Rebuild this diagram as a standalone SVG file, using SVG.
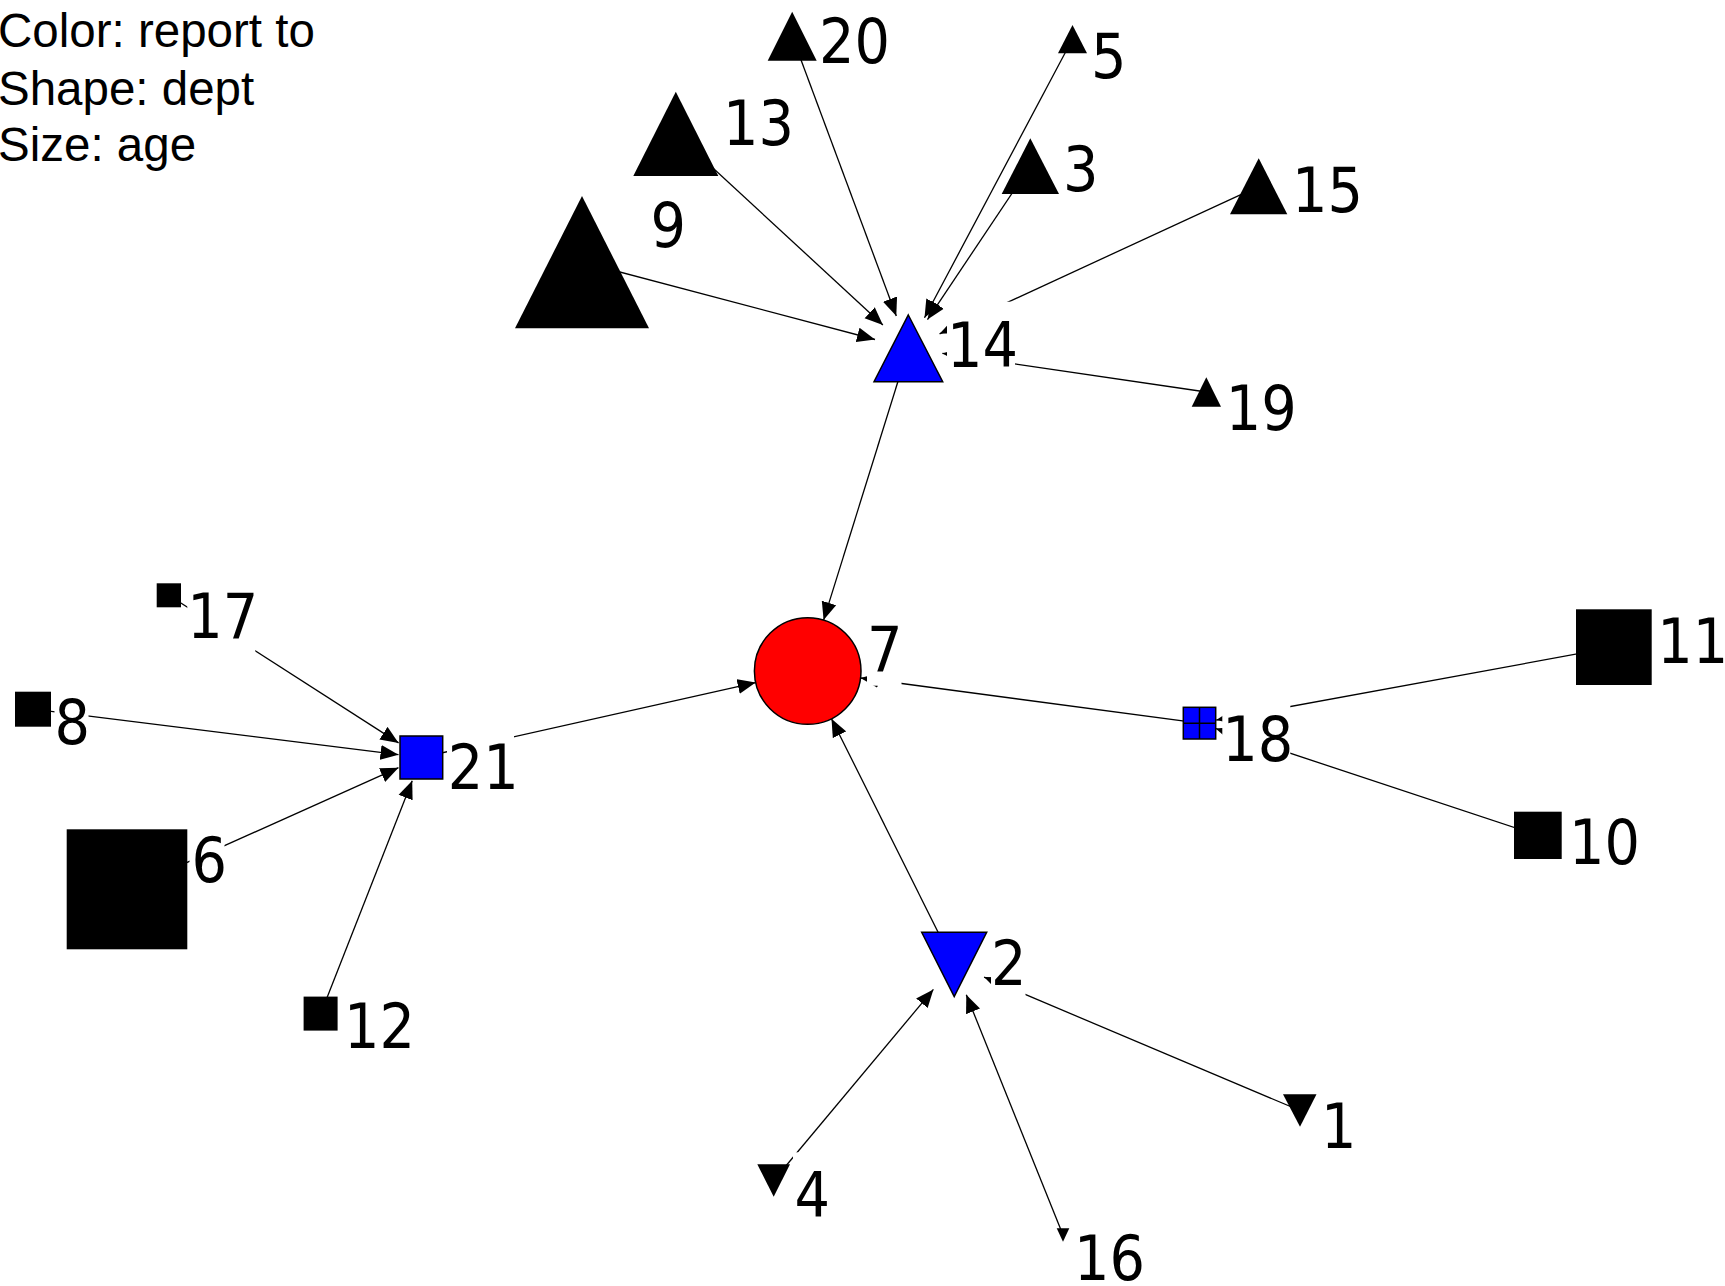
<svg xmlns="http://www.w3.org/2000/svg" width="1725" height="1286" viewBox="0 0 1725 1286">
<defs>
<marker id="arr" markerUnits="userSpaceOnUse" viewBox="-18 -8 18 16" refX="0" refY="0" markerWidth="18" markerHeight="16" orient="auto">
<path d="M0,0 L-18,-7.5 L-18,7.5 Z" fill="#000"/>
</marker>
</defs>
<style>
.e{stroke:#000;stroke-width:1.3;fill:none;marker-end:url(#arr)}
.k{fill:#000}
.b{fill:#0000ff;stroke:#000;stroke-width:1.5}
.bx{fill:#fff}
.lb{font-family:'DejaVu Sans Condensed','DejaVu Sans',sans-serif;font-stretch:condensed;font-size:62px;fill:#000}
.lg{font-family:'Liberation Sans',Arial,sans-serif;font-size:47.5px;fill:#000}
</style>
<rect width="1725" height="1286" fill="#fff"/>
<g id="legend">
<text class="lg" x="-2" y="47">Color: report to</text>
<text class="lg" x="-2" y="105">Shape: dept</text>
<text class="lg" x="-2" y="161">Size: age</text>
</g>
<g id="connectors">
<line class="e" x1="792.2" y1="36.2" x2="896.3" y2="316.0"/>
<line class="e" x1="675.8" y1="133.8" x2="882.9" y2="324.9"/>
<line class="e" x1="582" y1="262" x2="875.0" y2="339.5"/>
<line class="e" x1="1072.5" y1="39" x2="924.5" y2="317.8"/>
<line class="e" x1="1030.3" y1="166" x2="927.5" y2="319.6"/>
<line class="e" x1="1258.7" y1="186.3" x2="939.6" y2="333.8"/>
<line class="e" x1="1206.3" y1="392" x2="942.4" y2="353.3"/>
<line class="e" x1="908.3" y1="348.3" x2="823.6" y2="620.1"/>
<line class="e" x1="421.3" y1="757.5" x2="755.7" y2="682.6"/>
<line class="e" x1="1199.5" y1="723.2" x2="860.5" y2="678.0"/>
<line class="e" x1="954.2" y1="964.5" x2="831.5" y2="718.7"/>
<line class="e" x1="168.8" y1="595.3" x2="398.6" y2="742.9"/>
<line class="e" x1="33" y1="709.2" x2="398.5" y2="754.7"/>
<line class="e" x1="127" y1="889.3" x2="398.5" y2="767.7"/>
<line class="e" x1="320.7" y1="1013.7" x2="412.2" y2="780.8"/>
<line class="e" x1="1613.8" y1="647.2" x2="1216.2" y2="720.1"/>
<line class="e" x1="1537.8" y1="835.3" x2="1215.6" y2="728.5"/>
<line class="e" x1="773.7" y1="1180.5" x2="933.4" y2="989.4"/>
<line class="e" x1="1063" y1="1235" x2="966.3" y2="994.7"/>
<line class="e" x1="1300" y1="1110.5" x2="984.1" y2="977.1"/>
</g>
<g id="node-20"><rect class="bx" x="819" y="-1.7" width="69" height="80"/><polygon class="k" points="792.2,11.7 816.7,60.7 767.7,60.7"/><text class="lb" x="819" y="63.3">20</text></g>
<g id="node-13"><rect class="bx" x="723" y="80" width="69" height="80"/><polygon class="k" points="675.8,91.7 718.3,176 633.3,176"/><text class="lb" x="723" y="145">13</text></g>
<g id="node-9"><rect class="bx" x="650.5" y="182" width="34.5" height="80"/><polygon class="k" points="582,196 649,328.3 515,328.3"/><text class="lb" x="650.5" y="247">9</text></g>
<g id="node-5"><rect class="bx" x="1091" y="13" width="34.5" height="80"/><polygon class="k" points="1072.5,25 1087,53.3 1058,53.3"/><text class="lb" x="1091" y="78">5</text></g>
<g id="node-3"><rect class="bx" x="1063" y="126" width="34.5" height="80"/><polygon class="k" points="1030.3,138.3 1059,194 1001.7,194"/><text class="lb" x="1063" y="191">3</text></g>
<g id="node-15"><rect class="bx" x="1292" y="146.7" width="69" height="80"/><polygon class="k" points="1258.7,158.3 1287.3,214.3 1230,214.3"/><text class="lb" x="1292" y="211.7">15</text></g>
<g id="node-14"><rect class="bx" x="947" y="301.7" width="68" height="80"/><polygon class="b" points="908.3,315 942.7,381.7 874,381.7"/><text class="lb" x="947" y="366.7">14</text></g>
<g id="node-19"><rect class="bx" x="1225.7" y="365" width="69" height="80"/><polygon class="k" points="1206.3,377.3 1221,406.7 1191.7,406.7"/><text class="lb" x="1225.7" y="430">19</text></g>
<g id="node-7"><rect class="bx" x="867" y="605.7" width="34.5" height="80"/><circle cx="807.7" cy="671" r="53.3" fill="#ff0000" stroke="#000" stroke-width="1.5"/><text class="lb" x="867" y="670.7">7</text></g>
<g id="node-17"><rect class="bx" x="187.3" y="573.3" width="68" height="80"/><rect class="k" x="156.7" y="583.3" width="24.3" height="24"/><text class="lb" x="187.3" y="638.3">17</text></g>
<g id="node-8"><rect class="bx" x="54.5" y="679" width="34" height="80"/><rect class="k" x="15" y="691.7" width="36" height="35"/><text class="lb" x="54.5" y="744">8</text></g>
<g id="node-6"><rect class="bx" x="189.5" y="817" width="35" height="80"/><rect class="k" x="66.7" y="829.3" width="120.6" height="120"/><text class="lb" x="191.5" y="882">6</text></g>
<g id="node-21"><rect class="bx" x="447" y="724" width="67" height="80"/><rect class="b" x="400" y="736" width="42.7" height="43"/><text class="lb" x="447.7" y="789">21</text></g>
<g id="node-12"><rect class="bx" x="344" y="983" width="69" height="80"/><rect class="k" x="303.6" y="996.6" width="34" height="34"/><text class="lb" x="344" y="1048">12</text></g>
<g id="node-18"><rect class="bx" x="1222.3" y="696" width="68" height="80"/><rect class="b" x="1183.3" y="707.3" width="32.4" height="31.7"/><path d="M1199.5,707.3 V739 M1183.3,723.2 H1215.7" stroke="#000" stroke-width="1.5"/><text class="lb" x="1222.3" y="761">18</text></g>
<g id="node-11"><rect class="bx" x="1657.3" y="598.3" width="69" height="80"/><rect class="k" x="1576" y="609.3" width="75.7" height="75.7"/><text class="lb" x="1657.3" y="663.3">11</text></g>
<g id="node-10"><rect class="bx" x="1569" y="799" width="69" height="80"/><rect class="k" x="1514" y="811.7" width="47.7" height="47.3"/><text class="lb" x="1569" y="864">10</text></g>
<g id="node-2"><rect class="bx" x="991" y="920" width="34.5" height="80"/><polygon class="b" points="921.7,932.3 986.7,932.3 954.2,996.7"/><text class="lb" x="991" y="985">2</text></g>
<g id="node-4"><rect class="bx" x="793" y="1152.3" width="34.5" height="80"/><polygon class="k" points="757.3,1164.3 790,1164.3 773.7,1196.7"/><text class="lb" x="794.5" y="1217.3">4</text></g>
<g id="node-16"><rect class="bx" x="1074" y="1215" width="69" height="71"/><polygon class="k" points="1056.7,1228.3 1069.3,1228.3 1063,1241.7"/><text class="lb" x="1074" y="1280">16</text></g>
<g id="node-1"><rect class="bx" x="1321" y="1083" width="34.5" height="80"/><polygon class="k" points="1283,1094.3 1316.5,1094.3 1300,1126.7"/><text class="lb" x="1321" y="1148">1</text></g>
</svg>
